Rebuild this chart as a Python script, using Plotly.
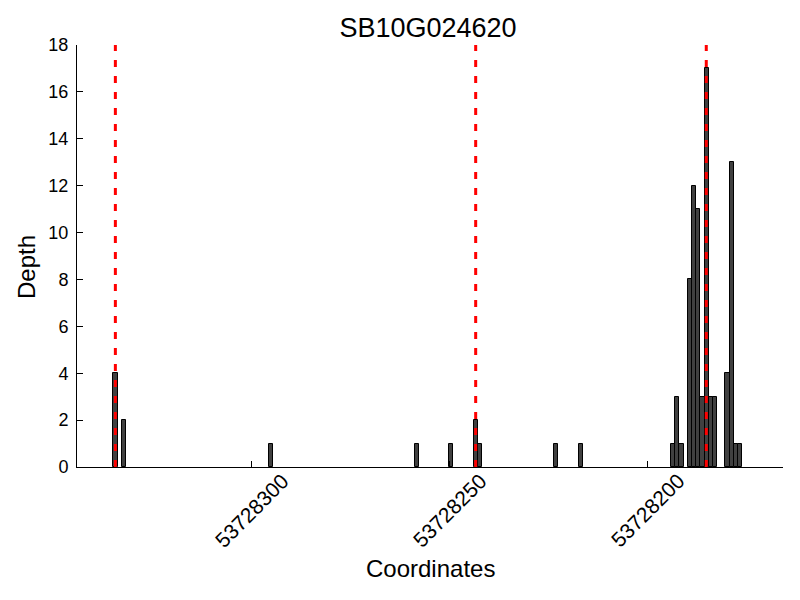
import plotly.graph_objects as go

title = "SB10G024620"
# bin centres (genomic coordinate) and depth
coords = [53728334.47, 53728332.35, 53728295.25, 53728258.15, 53728249.67,
          53728243.31, 53728242.25, 53728223.17, 53728216.81,
          53728193.49, 53728192.43, 53728191.37,
          53728189.25, 53728188.19, 53728187.13, 53728186.07, 53728185.01,
          53728183.95, 53728182.89,
          53728179.71, 53728178.65, 53728177.59, 53728176.53]
depth = [4, 2, 1, 1, 1,
         2, 1, 1, 1,
         1, 3, 1,
         8, 12, 11, 3, 17,
         3, 3,
         4, 13, 1, 1]
markers = [53728334.5, 53728243.4, 53728185.1]
x_ticks = [53728300, 53728250, 53728200]
x_tick_labels = ["53728300", "53728250", "53728200"]
y_ticks = [0, 2, 4, 6, 8, 10, 12, 14, 16, 18]

FONT = "Liberation Sans, Arial, sans-serif"
PLOT_H = 422

fig = go.Figure()
fig.add_trace(go.Bar(
    x=coords, y=depth, width=1.06,
    marker=dict(color="#404040", line=dict(color="black", width=1)),
    showlegend=False,
))
for m in markers:
    fig.add_shape(type="line", xref="x", yref="paper", x0=m, x1=m, y0=0, y1=1,
                  line=dict(color="red", width=3, dash="7px,9px"), layer="above")

fig.update_layout(
    width=800, height=600,
    margin=dict(l=69, r=25, t=37, b=141),
    plot_bgcolor="white", paper_bgcolor="white",
    font=dict(family=FONT, color="black"),
    title=dict(text=title, x=420 / 800, xanchor="center",
               y=1 - 20 / 600, yanchor="middle", yref="container",
               font=dict(size=27, family=FONT, color="black")),
    bargap=0,
)
fig.update_xaxes(
    range=[53728344.2, 53728165.7],
    tickvals=x_ticks, showticklabels=False,
    ticks="inside", ticklen=6, tickcolor="black",
    showline=True, linecolor="black", linewidth=1, mirror=False,
    showgrid=False, zeroline=False,
)
fig.update_yaxes(
    range=[0, 18], tickvals=y_ticks, tickfont=dict(size=18),
    ticks="inside", ticklen=6, tickcolor="black", ticklabelstandoff=4,
    showline=True, linecolor="black", linewidth=1,
    showgrid=False, zeroline=False,
)
for v, lab in zip(x_ticks, x_tick_labels):
    fig.add_annotation(text=lab, xref="x", yref="paper", x=v, y=-43.5 / PLOT_H,
                       xanchor="center", yanchor="middle", textangle=-45,
                       showarrow=False, font=dict(size=21, family=FONT))
fig.add_annotation(text="Coordinates", xref="paper", yref="paper",
                   x=0.5, y=-(568 - 467) / PLOT_H, xanchor="center", yanchor="middle",
                   showarrow=False, font=dict(size=24, family=FONT))
fig.add_annotation(text="Depth", xref="paper", yref="paper",
                   x=(26 - 77) / 706, y=(467 - 267) / PLOT_H, xanchor="center", yanchor="middle",
                   textangle=-90, showarrow=False, font=dict(size=24, family=FONT))

fig.write_html("out.html")
